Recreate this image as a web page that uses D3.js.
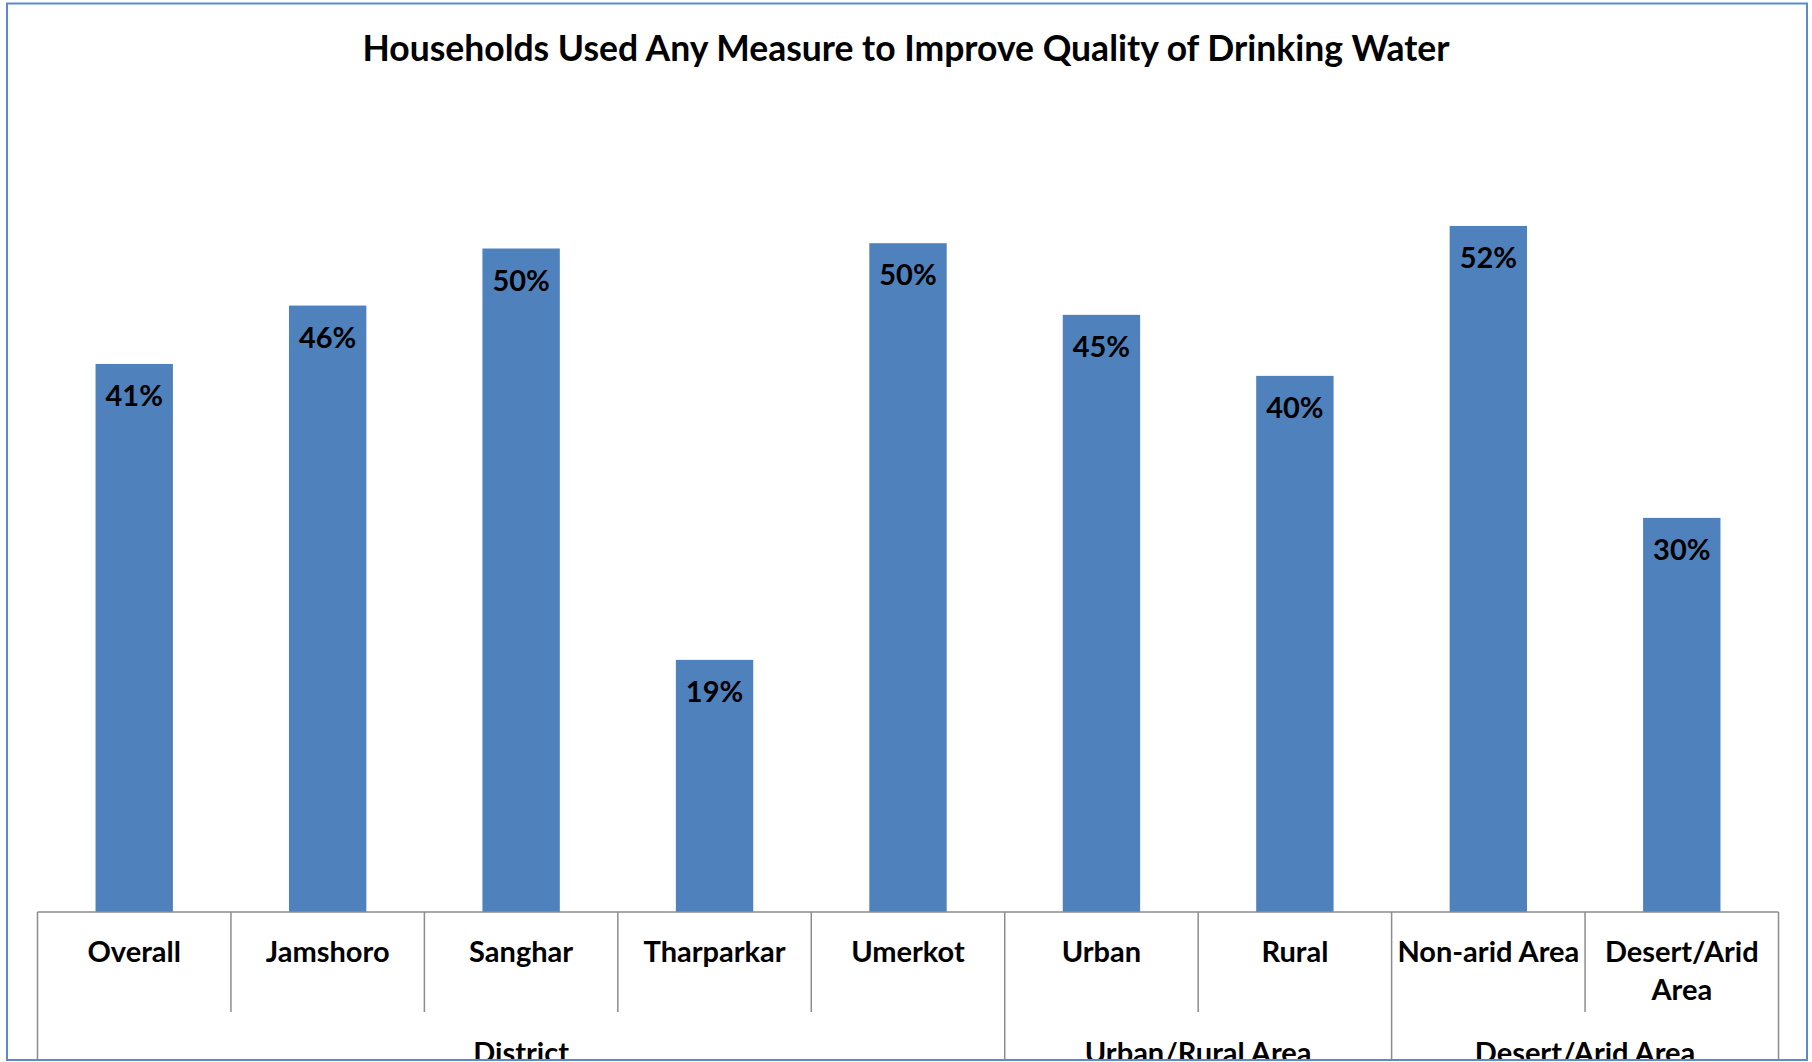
<!DOCTYPE html>
<html>
<head>
<meta charset="utf-8">
<script src="https://cdn.jsdelivr.net/npm/d3@7"></script>
<style>
  body { margin: 0; background: #fff; }
  svg { display: block; }
</style>
</head>
<body>
<div id="chart"></div>
<script>
var title = "Households Used Any Measure to Improve Quality of Drinking Water";

// categories and values (percent)
var categories = ["Overall", "Jamshoro", "Sanghar", "Tharparkar", "Umerkot",
                  "Urban", "Rural", "Non-arid Area", "Desert/Arid Area"];
var values = [41.3, 45.7, 50.0, 19.0, 50.4, 45.0, 40.4, 51.7, 29.7];

// tick label lines
var tickLines = [["Overall"], ["Jamshoro"], ["Sanghar"], ["Tharparkar"], ["Umerkot"],
                 ["Urban"], ["Rural"], ["Non-arid Area"], ["Desert/Arid", "Area"]];

// group labels and how many categories each one covers
var groupNames = ["District", "Urban/Rural Area", "Desert/Arid Area"];
var groupSizes = [5, 2, 2];

var W = 1812, H = 1062;
var font = "Lato, 'Open Sans', sans-serif";

var svg = d3.select("#chart")
  .append("svg")
    .attr("width", W)
    .attr("height", H);

svg.append("defs").append("clipPath")
    .attr("id", "frameclip")
  .append("rect")
    .attr("x", 7).attr("y", 3.5)
    .attr("width", 1800).attr("height", 1056.5);

var x = d3.scaleBand()
  .domain(categories)
  .range([37.5, 1778.5])
  .paddingInner(0.6)
  .paddingOuter(0.3);

var y = d3.scaleLinear()
  .domain([0, 60])
  .range([912, 912 - 60 * 13.27]);

var step = x.step();
function left(c) { return x(c) - step * 0.3; }

// title
svg.append("text")
    .attr("x", 906)
    .attr("y", 61)
    .attr("text-anchor", "middle")
    .style("font-family", font)
    .style("font-weight", "bold")
    .style("font-size", "35.5px")
    .text(title);

// bars
svg.selectAll(".bar")
    .data(values)
  .enter().append("rect")
    .attr("class", "bar")
    .attr("x", function(d, i) { return x(categories[i]); })
    .attr("width", x.bandwidth())
    .attr("y", function(d) { return y(d); })
    .attr("height", function(d) { return y(0) - y(d); })
    .attr("fill", "#4F81BD");

// value labels
svg.selectAll(".lbl")
    .data(values)
  .enter().append("text")
    .attr("class", "lbl")
    .attr("x", function(d, i) { return x(categories[i]) + x.bandwidth() / 2; })
    .attr("y", function(d) { return y(d) + 42; })
    .attr("text-anchor", "middle")
    .style("font-family", font)
    .style("font-weight", "bold")
    .style("font-size", "29px")
    .text(function(d) { return d3.format(".0f")(d) + "%"; });

var axis = svg.append("g").attr("clip-path", "url(#frameclip)");
var grey = "#8c8c8c";

// axis line
axis.append("line")
    .attr("x1", left(categories[0])).attr("x2", left(categories[8]) + step)
    .attr("y1", y(0)).attr("y2", y(0))
    .attr("stroke", grey).attr("stroke-width", 1.5);

// dividers: group boundaries run to the bottom, others are short
var groupStarts = [0];
groupSizes.forEach(function(s, i) { groupStarts.push(groupStarts[i] + s); });

var bounds = d3.range(categories.length + 1);
axis.selectAll(".div")
    .data(bounds)
  .enter().append("line")
    .attr("x1", function(i) { return i < categories.length ? left(categories[i]) : left(categories[i - 1]) + step; })
    .attr("x2", function(i) { return i < categories.length ? left(categories[i]) : left(categories[i - 1]) + step; })
    .attr("y1", y(0))
    .attr("y2", function(i) { return groupStarts.indexOf(i) >= 0 ? H : 1012; })
    .attr("stroke", grey).attr("stroke-width", 1.5);

// category labels
var tl = axis.selectAll(".tick")
    .data(tickLines)
  .enter().append("text")
    .attr("text-anchor", "middle")
    .style("font-family", font)
    .style("font-weight", "bold")
    .style("font-size", "29px");
tl.selectAll("tspan")
    .data(function(d, i) { return d.map(function(t) { return { t: t, i: i }; }); })
  .enter().append("tspan")
    .attr("x", function(d) { return x(categories[d.i]) + x.bandwidth() / 2; })
    .attr("y", function(d, j) { return 962 + j * 38; })
    .text(function(d) { return d.t; });

// group labels (cut by the frame, as in the original)
axis.selectAll(".grp")
    .data(groupNames)
  .enter().append("text")
    .attr("x", function(d, i) {
      var a = left(categories[groupStarts[i]]);
      return a + step * groupSizes[i] / 2;
    })
    .attr("y", 1063)
    .attr("text-anchor", "middle")
    .style("font-family", font)
    .style("font-weight", "bold")
    .style("font-size", "29px")
    .text(function(d) { return d; });

// outer frame
svg.append("rect")
    .attr("x", 7).attr("y", 3.5)
    .attr("width", 1800).attr("height", 1056.5)
    .attr("fill", "none")
    .attr("stroke", "#5B8CC9")
    .attr("stroke-width", 2);
</script>
</body>
</html>
